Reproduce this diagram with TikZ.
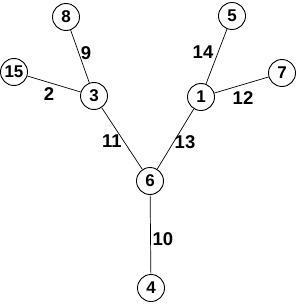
\documentclass[tikz,border=0pt]{standalone}
\usepackage{fontspec}
\setmainfont{Liberation Sans}
\begin{document}
\begin{tikzpicture}[x=1pt,y=-1pt,
  vert/.style={circle,draw,line width=0.9pt,minimum size=27pt,inner sep=0pt,font=\fontsize{17}{19}\selectfont\bfseries},
  elab/.style={font=\fontsize{18.5}{20}\selectfont\bfseries,inner sep=0pt},
  edge/.style={line width=0.7pt}]
\useasboundingbox (0,0) rectangle (300,305);
\node[vert] (n8) at (66,17) {8};
\node[vert] (n15) at (14,72) {15};
\node[vert] (n3) at (94,96) {3};
\node[vert] (n5) at (232,16) {5};
\node[vert] (n7) at (282,73) {7};
\node[vert] (n1) at (201,97) {1};
\node[vert] (n6) at (150,181) {6};
\node[vert] (n4) at (151,288) {4};
\draw[edge] (n8) -- (n3);
\draw[edge] (n15) -- (n3);
\draw[edge] (n3) -- (n6);
\draw[edge] (n5) -- (n1);
\draw[edge] (n7) -- (n1);
\draw[edge] (n1) -- (n6);
\draw[edge] (n6) -- (n4);
\node[elab] (l9) at (86,53) {9};
\node[elab] (l2) at (49,94) {2};
\node[elab] (l11) at (112,141) {11};
\node[elab] (l14) at (203,52) {14};
\node[elab] (l12) at (243,98) {12};
\node[elab] (l13) at (185,142) {13};
\node[elab] (l10) at (163,239) {10};
\end{tikzpicture}
\end{document}
